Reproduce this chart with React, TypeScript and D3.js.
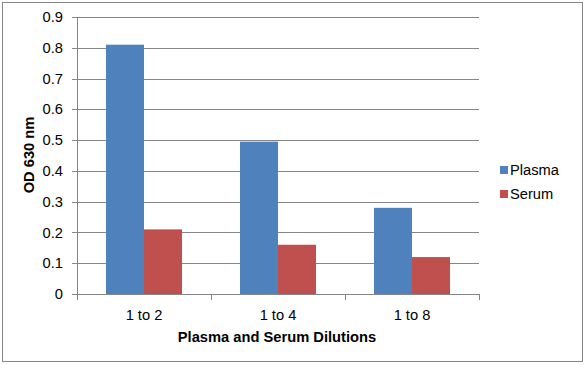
import React from 'react';
import * as d3 from 'd3';

// chart data
const categories = ['1 to 2', '1 to 4', '1 to 8'];
const seriesNames = ['Plasma', 'Serum'];
const plasmaValues = [0.81, 0.495, 0.28];
const serumValues = [0.21, 0.16, 0.12];
const yTicks = [0, 0.1, 0.2, 0.3, 0.4, 0.5, 0.6, 0.7, 0.8, 0.9];

const colors = ['#4F81BD', '#C0504D'];
const width = 586;
const height = 365;
const font = '"Liberation Sans", Arial, sans-serif';
const fs = 14.7;

const App = () => {
  const left = 77;
  const right = 479;
  const top = 17;
  const bottom = 294;

  const x0 = d3.scaleBand().domain(categories).range([left, right]).padding(0);
  const x1 = d3
    .scaleBand()
    .domain(seriesNames)
    .range([0, x0.bandwidth()])
    .paddingInner(0)
    .paddingOuter(0.763);
  const y = d3.scaleLinear().domain([0, 0.9]).range([bottom, top]);

  const series = [plasmaValues, serumValues];

  return (
    <svg
      width={width}
      height={height}
      style={{ position: 'absolute', left: 0, top: 0, background: 'white' }}
    >
      <rect x={2.5} y={2.5} width={580} height={359} fill='white' stroke='#868686' />

      {/* gridlines and y ticks */}
      {yTicks.map((t) => (
        <g key={t}>
          {t > 0 && (
            <line x1={left} x2={right} y1={Math.round(y(t)) + 0.5} y2={Math.round(y(t)) + 0.5} stroke='#868686' />
          )}
          <line x1={left - 5} x2={left} y1={Math.round(y(t)) + 0.5} y2={Math.round(y(t)) + 0.5} stroke='#868686' />
          <text
            x={left - 14}
            y={y(t)}
            dy='0.35em'
            textAnchor='end'
            fontFamily={font}
            fontSize={fs}
            fill='#000'
          >
            {t === 0 ? '0' : d3.format('.1f')(t)}
          </text>
        </g>
      ))}

      {/* bars */}
      {categories.map((c, i) => (
        <g key={c} transform={`translate(${x0(c)},0)`}>
          {seriesNames.map((s, j) => (
            <rect
              key={s}
              x={x1(s)}
              y={y(series[j][i])}
              width={x1.bandwidth()}
              height={bottom - y(series[j][i])}
              fill={colors[j]}
            />
          ))}
        </g>
      ))}

      {/* axes */}
      <line x1={left + 0.5} x2={left + 0.5} y1={top} y2={bottom} stroke='#868686' />
      <line x1={left} x2={right} y1={bottom + 0.5} y2={bottom + 0.5} stroke='#868686' />
      {[...categories.map((c) => x0(c) as number), right].map((xv, i) => (
        <line key={i} x1={Math.round(xv) + 0.5} x2={Math.round(xv) + 0.5} y1={bottom} y2={bottom + 6} stroke='#868686' />
      ))}

      {categories.map((c) => (
        <text
          key={c}
          x={(x0(c) as number) + x0.bandwidth() / 2}
          y={315}
          dy='0.35em'
          textAnchor='middle'
          fontFamily={font}
          fontSize={fs}
        >
          {c}
        </text>
      ))}

      <text x={277} y={337} dy='0.35em' textAnchor='middle' fontFamily={font} fontSize={fs} fontWeight='bold'>
        Plasma and Serum Dilutions
      </text>
      <text
        transform='translate(29,155) rotate(-90)'
        dy='0.35em'
        textAnchor='middle'
        fontFamily={font}
        fontSize={fs}
        fontWeight='bold'
      >
        OD 630 nm
      </text>

      {/* legend */}
      {seriesNames.map((s, j) => (
        <g key={s} transform={`translate(500,${170 + j * 24})`}>
          <rect x={0} y={-4} width={8} height={8} fill={colors[j]} />
          <text x={10} y={0} dy='0.35em' fontFamily={font} fontSize={fs}>
            {s}
          </text>
        </g>
      ))}
    </svg>
  );
};

export default App;
